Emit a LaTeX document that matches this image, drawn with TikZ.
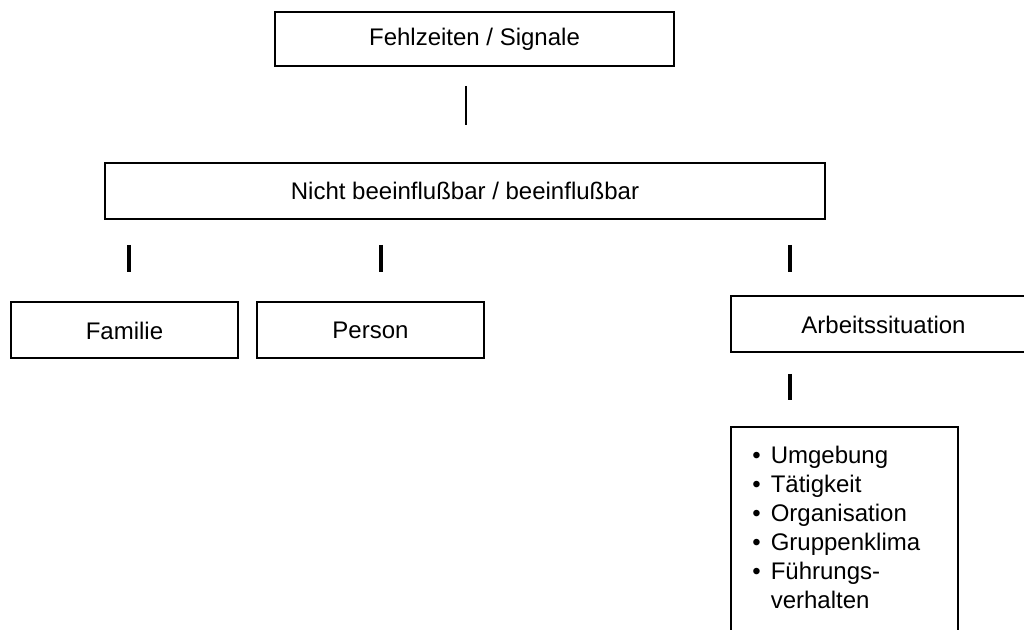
\documentclass[tikz,border=0pt]{standalone}
\usepackage{fontspec}
\setmainfont{Liberation Sans}
\usetikzlibrary{positioning}

\tikzset{
  kasten/.style={draw, line width=1pt, minimum height=28pt, inner sep=0pt,
    font=\fontsize{12}{14}\selectfont},
  strich/.style={line width=1.6pt},
}

\begin{document}
\begin{tikzpicture}[x=0.5pt, y=-0.5pt]
\useasboundingbox (0,0) rectangle (1024,630);
\clip (0,0) rectangle (1024,630);
% Kaesten
\node[kasten, minimum width=199.5pt, minimum height=27pt] (fehlzeiten) at (474.5,39) {Fehlzeiten / Signale};
\node[kasten, minimum width=360pt] (einfluss) at (465,191) {Nicht beeinflußbar / beeinflußbar};
\node[kasten, minimum width=113.5pt] (familie) at (124.5,330.5) {Familie};
\node[kasten, minimum width=113.5pt] (person) at (370.5,330.5) {Person};
\node[kasten, minimum width=152.5pt] (arbeit) at (883.5,324.5) {Arbeitssituation};
% Striche
\draw[line width=1pt] (466,86) -- (466,125);
\draw[strich] (129,245) -- (129,272);
\draw[strich] (381,245) -- (381,272);
\draw[strich] (790,245) -- (790,272);
\draw[strich] (790,374) -- (790,400);
% Liste, unten offen
\node[anchor=north west, align=left, inner sep=0pt, font=\fontsize{12}{14.5}\selectfont] (liste) at (752,446)
  {\textbullet\hspace{5pt}Umgebung\\
   \textbullet\hspace{5pt}Tätigkeit\\
   \textbullet\hspace{5pt}Organisation\\
   \textbullet\hspace{5pt}Gruppenklima\\
   \textbullet\hspace{5pt}Führungs-\\
   \hphantom{\textbullet\hspace{5pt}}verhalten};
\draw[line width=1pt] (731,640) |- (958,427) -- (958,640);
\end{tikzpicture}
\end{document}
